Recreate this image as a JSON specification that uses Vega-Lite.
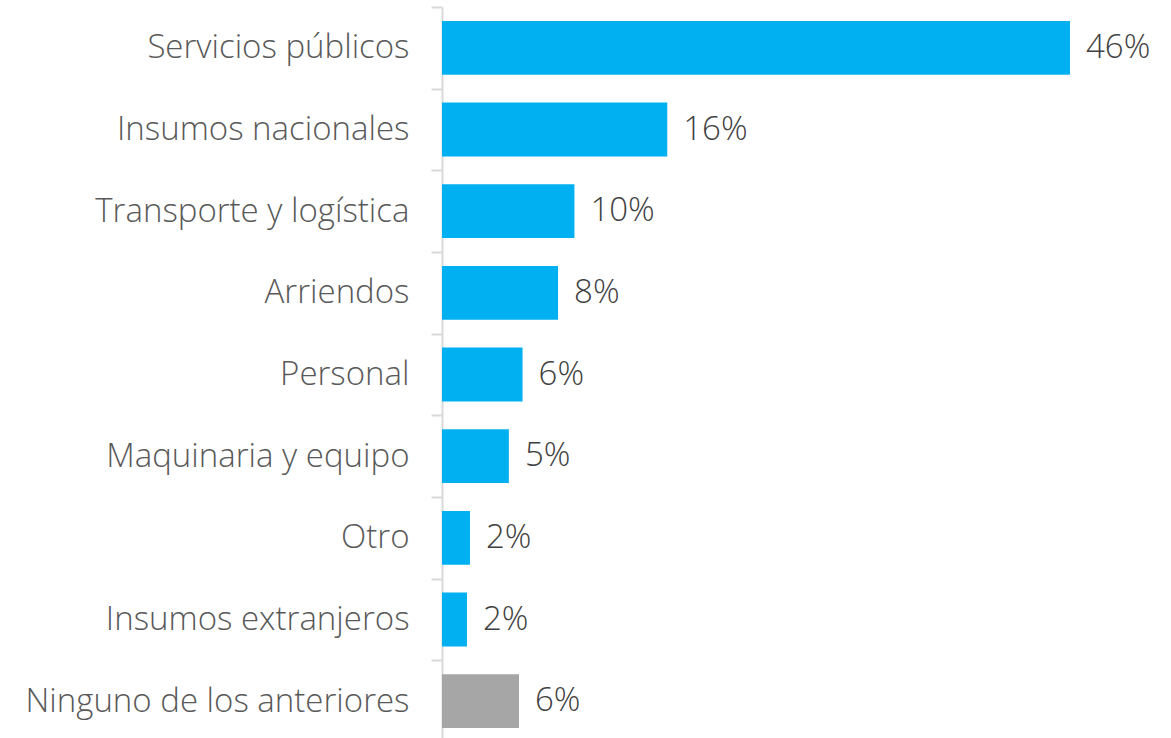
{
  "$schema": "https://vega.github.io/schema/vega-lite/v6.json",
  "autosize": "none",
  "width": 729,
  "height": 735,
  "padding": {"left": 442, "top": 7, "right": 0, "bottom": 0},
  "background": "white",
  "config": {"view": {"stroke": null}, "font": "Open Sans"},
  "data": {
    "values": [
      {"categoria": "Servicios públicos", "valor": 46.0, "etiqueta": "46%", "tipo": "gasto"},
      {"categoria": "Insumos nacionales", "valor": 16.5, "etiqueta": "16%", "tipo": "gasto"},
      {"categoria": "Transporte y logística", "valor": 9.7, "etiqueta": "10%", "tipo": "gasto"},
      {"categoria": "Arriendos", "valor": 8.5, "etiqueta": "8%", "tipo": "gasto"},
      {"categoria": "Personal", "valor": 5.9, "etiqueta": "6%", "tipo": "gasto"},
      {"categoria": "Maquinaria y equipo", "valor": 4.9, "etiqueta": "5%", "tipo": "gasto"},
      {"categoria": "Otro", "valor": 2.05, "etiqueta": "2%", "tipo": "gasto"},
      {"categoria": "Insumos extranjeros", "valor": 1.83, "etiqueta": "2%", "tipo": "gasto"},
      {"categoria": "Ninguno de los anteriores", "valor": 5.64, "etiqueta": "6%", "tipo": "ninguno"}
    ]
  },
  "encoding": {
    "y": {
      "field": "categoria",
      "type": "nominal",
      "sort": null,
      "scale": {"paddingInner": 0.34, "paddingOuter": 0.17},
      "axis": {
        "title": null,
        "domainColor": "#d9d9d9",
        "domainWidth": 2,
        "tickColor": "#d9d9d9",
        "tickWidth": 2,
        "tickSize": 11,
        "tickOffset": -40.83,
        "labelOffset": 40.83,
        "labelFontSize": 33,
        "labelColor": "#595959",
        "labelPadding": 22,
        "labelFont": "Open Sans",
        "labelFontWeight": 300,
        "labelLimit": 0
      }
    },
    "x": {
      "field": "valor",
      "type": "quantitative",
      "scale": {"domain": [0, 53.4], "nice": false},
      "axis": null
    }
  },
  "layer": [
    {
      "mark": {"type": "bar"},
      "encoding": {
        "color": {
          "field": "tipo",
          "type": "nominal",
          "scale": {"domain": ["gasto", "ninguno"], "range": ["#00b0f0", "#a6a6a6"]},
          "legend": null
        }
      }
    },
    {
      "mark": {"type": "text", "align": "left", "baseline": "middle", "dx": 16, "fontSize": 33, "font": "Open Sans", "fontWeight": 300, "color": "#404040"},
      "encoding": {"text": {"field": "etiqueta"}}
    }
  ]
}
